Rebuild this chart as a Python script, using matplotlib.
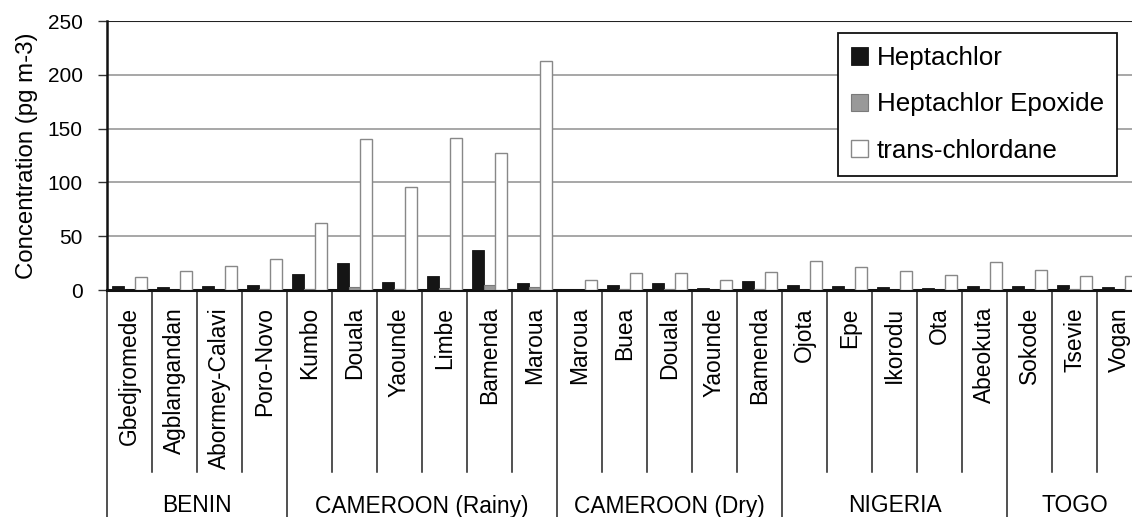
import numpy as np
import matplotlib
matplotlib.use("Agg")
import matplotlib.pyplot as plt
import matplotlib.transforms as mtransforms

plt.rcParams['font.family'] = ['Liberation Sans', 'DejaVu Sans']

# sampling sites, grouped by country / season
countries = ["BENIN", "CAMEROON (Rainy)", "CAMEROON (Dry)", "NIGERIA", "TOGO"]
sites_per_country = [4, 6, 5, 5, 3]
sites = ["Gbedjromede", "Agblangandan", "Abormey-Calavi", "Poro-Novo",
         "Kumbo", "Douala", "Yaounde", "Limbe", "Bamenda", "Maroua",
         "Maroua", "Buea", "Douala", "Yaounde", "Bamenda",
         "Ojota", "Epe", "Ikorodu", "Ota", "Abeokuta",
         "Sokode", "Tsevie", "Vogan"]

# concentrations in pg m-3
heptachlor = [4.0, 3.0, 4.0, 4.5,
              14.5, 25.0, 7.0, 13.0, 37.5, 6.5,
              0.7, 4.7, 6.5, 2.0, 8.0,
              4.3, 4.0, 3.0, 1.9, 3.7,
              4.0, 5.0, 3.0]
heptachlor_epoxide = [0.3, 0.3, 0.3, 1.0,
                      0.8, 3.0, 1.0, 1.5, 4.5, 2.5,
                      0.3, 0.5, 1.0, 0.3, 0.5,
                      0.3, 0.3, 0.3, 0.3, 0.3,
                      0.3, 0.6, 0.3]
trans_chlordane = [12.3, 18.0, 22.0, 29.0,
                   62.0, 140.0, 96.0, 141.5, 127.0, 213.0,
                   9.5, 15.8, 15.8, 9.5, 16.8,
                   26.8, 21.5, 17.4, 14.0, 26.2,
                   18.7, 13.0, 13.0]

px = 1 / 269.0  # one pixel in axes-fraction units (vertical)

fig = plt.figure(figsize=(11.32, 5.17), dpi=100)
# 45 px per site; the last column runs past the right edge
ax = fig.add_axes([107 / 1132, 227 / 517, 45 * len(sites) / 1132, 269 / 517])

x = np.arange(len(sites))
w = 0.259
ax.bar(x - w, heptachlor, w, color="#151515", edgecolor="#151515", linewidth=0.6,
       label="Heptachlor", zorder=3)
ax.bar(x, heptachlor_epoxide, w, color="#999999", edgecolor="#7a7a7a", linewidth=0.8,
       label="Heptachlor Epoxide", zorder=3)
ax.bar(x + w, trans_chlordane, w, color="white", edgecolor="#888888", linewidth=1.0,
       label="trans-chlordane", zorder=3)

ax.set_xlim(-0.5, len(sites) - 0.5)
ax.set_ylim(0, 250)
ax.set_yticks([0, 50, 100, 150, 200, 250])
ax.tick_params(axis="y", labelsize=15, length=6.5, width=1, color="#333333", pad=11)
ax.set_xticks([])
ax.set_ylabel("Concentration (pg m-3)", fontsize=17.3, labelpad=7)

for y in [50, 100, 150, 200]:
    ax.axhline(y, color="#a0a0a0", linewidth=1.3, zorder=1)
ax.axhline(250, color="#222222", linewidth=1.5, zorder=1)

for s in ["top", "right"]:
    ax.spines[s].set_visible(False)
ax.spines["left"].set_linewidth(1.8)
ax.spines["left"].set_color("#111111")
ax.spines["bottom"].set_linewidth(2.2)
ax.spines["bottom"].set_color("#111111")

# two-level category axis below the plot
trans = mtransforms.blended_transform_factory(ax.transData, ax.transAxes)
bounds = np.cumsum([0] + sites_per_country) - 0.5
for i in range(len(sites) + 1):
    xb = i - 0.5
    depth = 240 if xb in bounds else 182
    ax.plot([xb, xb], [0, -depth * px], color="#222222", linewidth=1.1,
            transform=trans, clip_on=False)

for i, name in enumerate(sites):
    ax.text(i, -17 * px, name, rotation=90, ha="center", va="top",
            fontsize=16.4, transform=trans)

for k, c in enumerate(countries):
    center = (bounds[k] + bounds[k + 1]) / 2
    ax.text(center, -216 * px, c, ha="center", va="center",
            fontsize=16.4, transform=trans)

leg = fig.legend(loc="upper right", bbox_to_anchor=(1117 / 1132, 1 - 33 / 517),
                 borderaxespad=0, fontsize=18.7, frameon=True, fancybox=False,
                 handlelength=0.65, handleheight=0.65, handletextpad=0.33,
                 labelspacing=0.86, borderpad=0.5, framealpha=1)
leg.get_frame().set_edgecolor("#111111")
leg.get_frame().set_linewidth(1.3)

fig.savefig("out.png", dpi=100)
